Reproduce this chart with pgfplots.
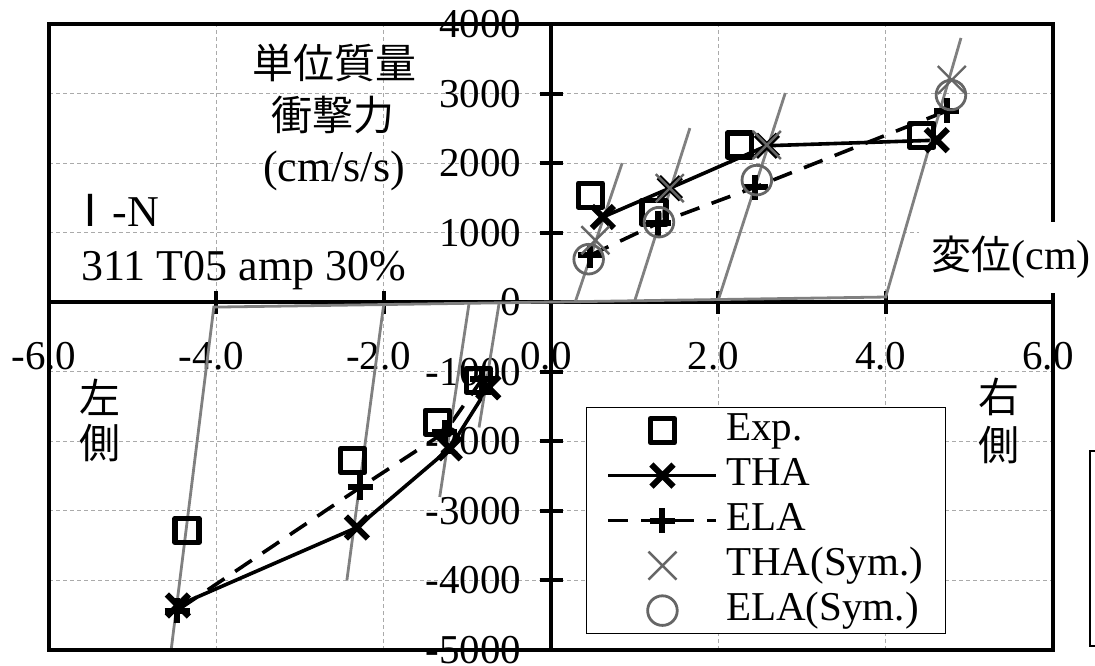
\documentclass[border=0pt]{standalone}
\usepackage{fontspec}
\setmainfont{Liberation Serif}
\newfontfamily\jp{Noto Sans CJK JP}
\usepackage{pgfplots}
\pgfplotsset{compat=1.18}
\definecolor{lgray}{HTML}{808080}
\definecolor{sgray}{HTML}{666666}
\definecolor{ggrid}{HTML}{AAAAAA}
\pgfplotsset{
  lineleg/.style={legend image code/.code={\draw[mark repeat=2, mark phase=2, ##1] plot coordinates {(0pt,0pt) (27pt,0pt) (54pt,0pt)};}},
  markleg/.style={legend image code/.code={\draw[##1] plot coordinates {(27pt,0pt)};}},
}
\begin{document}
\begin{tikzpicture}
\useasboundingbox (0,0) rectangle (547.5pt,332.5pt);
\begin{axis}[
  at={(24.5pt,7.5pt)}, anchor=south west,
  scale only axis, width=502pt, height=313pt,
  xmin=-6, xmax=6, ymin=-5000, ymax=4000,
  axis x line=middle, axis y line=middle,
  axis line style={-, line width=1.8pt},
  xtick={-6,-4,-2,0,2,4,6},
  ytick={-5000,-4000,-3000,-2000,-1000,0,1000,2000,3000,4000},
  hide obscured x ticks=false, hide obscured y ticks=false,
  grid=major,
  major grid style={ggrid, line width=0.5pt, dash pattern=on 2pt off 1.5pt},
  tick align=center, major tick length=11.5pt,
  tick style={black, line width=2pt},
  /pgf/number format/assume math mode=true,
  tick label style={font=\fontsize{20.5}{24}\selectfont, inner sep=0pt},
  xticklabel={\pgfmathprintnumber[fixed,fixed zerofill,precision=1]{\tick}},
  xticklabel style={anchor=center, yshift=-21pt, xshift=-2.5pt},
  yticklabel style={anchor=east, xshift=-9pt, /pgf/number format/1000 sep={}},
  clip=false,
  unbounded coords=jump,
  legend style={at={(0.5349,0.3882)}, anchor=north west, draw=black, line width=0.6pt, fill=white,
    font=\fontsize{20.5}{24}\selectfont, inner xsep=10pt, inner ysep=1.5pt, row sep=2.5pt, column sep=3pt,
    nodes={inner sep=1pt, text height=14pt, text depth=4pt}},
  legend cell align=left,
]
% Exp.
\addplot[black, line width=2.6pt, only marks, mark=square, mark size=6pt, mark options={line join=round}, markleg]
  coordinates {(0.47,1540) (1.23,1295) (2.25,2260) (4.43,2400) (nan,nan)
               (-4.35,-3280) (-2.37,-2275) (-1.36,-1725) (-0.87,-1120)};
% THA
\addplot[black, line width=1.8pt, mark=x, mark size=7.8pt, mark options={line width=3pt, solid}, lineleg]
  coordinates {(0.62,1225) (1.42,1640) (2.58,2250) (4.61,2330) (nan,nan)
               (-0.75,-1223) (-1.21,-2100) (-2.32,-3238) (-4.46,-4360)};
% ELA
\addplot[black, line width=1.8pt, dash pattern=on 10pt off 6.5pt, mark=+, mark size=6.25pt, mark options={line width=3pt, solid}, lineleg]
  coordinates {(0.47,676) (1.28,1137) (2.44,1655) (4.73,2750) (nan,nan)
               (-0.82,-1100) (-1.27,-1870) (-2.28,-2662) (-4.47,-4432)};
% THA(Sym.)
\addplot[sgray, only marks, mark=x, mark size=9.9pt, mark options={line width=1.2pt}, markleg]
  coordinates {(0.53,892) (1.42,1640) (2.58,2260) (4.79,3195)};
% ELA(Sym.)
\addplot[sgray, only marks, mark=o, mark size=7.4pt, mark options={line width=1.4pt}, markleg]
  coordinates {(0.45,619) (1.29,1151) (2.46,1756) (4.78,2979)};
% gray stiffness lines
\addplot[lgray, line width=1.4pt, forget plot] coordinates {(-4.54,-5000) (-4.03,-70) (4.0,75) (4.90,3800)};
\addplot[lgray, line width=1.4pt, forget plot] coordinates {(-2.0,-35) (-2.44,-4000)};
\addplot[lgray, line width=1.4pt, forget plot] coordinates {(-0.98,-20) (-1.33,-2800)};
\addplot[lgray, line width=1.4pt, forget plot] coordinates {(-0.62,-11) (-0.86,-1800)};
\addplot[lgray, line width=1.4pt, forget plot] coordinates {(0.29,5) (0.85,2000)};
\addplot[lgray, line width=1.4pt, forget plot] coordinates {(1.0,18) (1.66,2504)};
\addplot[lgray, line width=1.4pt, forget plot] coordinates {(2.0,35) (2.80,3008)};
\legend{Exp., THA, ELA, THA(Sym.), ELA(Sym.)}
\draw[line width=1.7pt] (rel axis cs:0,0) rectangle (rel axis cs:1,1);
\end{axis}
\begin{scope}[x=0.5pt, y=-0.5pt, shift={(0pt,332.5pt)}]
\node[font={\jp\fontsize{20.5}{24}\selectfont}] at (334,63) {単位質量};
\node[font={\jp\fontsize{20.5}{24}\selectfont}] at (333,115) {衝撃力};
\node[font=\fontsize{22}{26}\selectfont, anchor=base, inner sep=0pt] at (334,182) {(cm/s/s)};
\node[font=\fontsize{22}{26}\selectfont, anchor=base west, inner sep=0pt] at (68,227) {{\jp Ⅰ}-N};
\node[font=\fontsize{22}{26}\selectfont, anchor=base west, inner sep=0pt] at (81,280) {311 T05 amp 30\%};
\node[font=\fontsize{21}{26}\selectfont, anchor=west, fill=white, inner xsep=6pt, inner ysep=0pt, minimum height=35.5pt] at (919,257.5) {{\jp\fontsize{20}{24}\selectfont 変位}(cm)};
\node[font={\jp\fontsize{20.5}{24}\selectfont}] at (100,397) {左};
\node[font={\jp\fontsize{20.5}{24}\selectfont}] at (100,443) {側};
\node[font={\jp\fontsize{20.5}{24}\selectfont}] at (999,397) {右};
\node[font={\jp\fontsize{20.5}{24}\selectfont}] at (999,445) {側};
\draw[line width=0.8pt] (1100,451) -- (1090,451) -- (1090,646) -- (1100,646);
\end{scope}
\end{tikzpicture}
\end{document}
